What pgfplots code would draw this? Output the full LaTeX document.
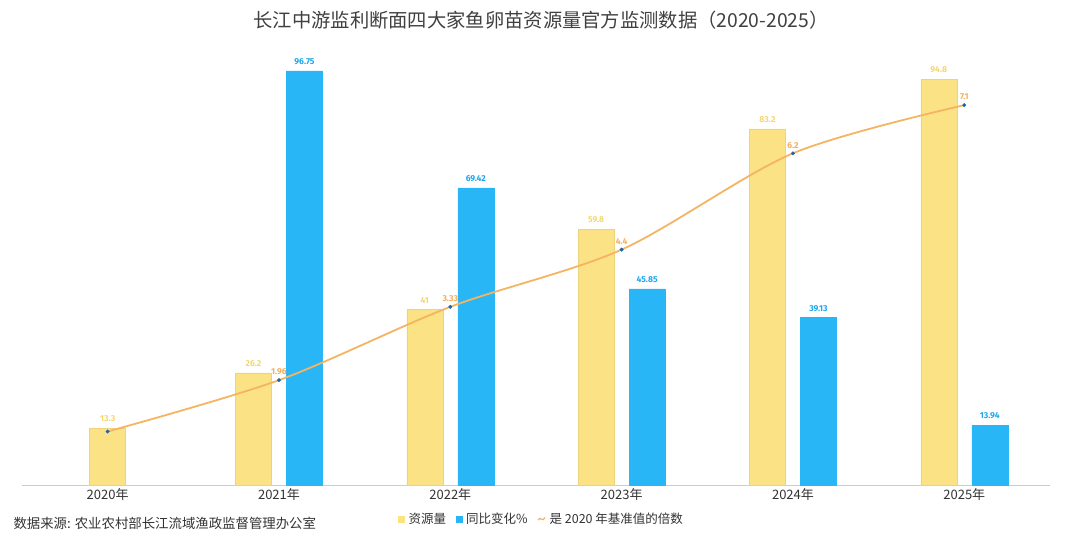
\documentclass[border=0pt]{standalone}
\usepackage{fontspec}
\setmainfont{Noto Sans CJK SC}
\newfontfamily\labfont{Fira Sans}
\usepackage{pgfplots}
\pgfplotsset{compat=1.18}
\definecolor{ybarc}{HTML}{FBE285}
\definecolor{ybarline}{HTML}{EDD47C}
\definecolor{bbarc}{HTML}{29B6F6}
\definecolor{ylab}{HTML}{F5D66E}
\definecolor{blab}{HTML}{1EA7EC}
\definecolor{oline}{HTML}{F5B462}
\definecolor{olab}{HTML}{F2AE5E}
\definecolor{mk}{HTML}{1A64B4}
\definecolor{txt}{HTML}{333333}
\definecolor{ttl}{HTML}{404040}
\begin{document}
\begin{tikzpicture}
\path[use as bounding box] (0,0) rectangle (1080bp,540bp);
\node[font=\fontsize{19.3bp}{22bp}\selectfont, text=ttl] at (541bp,520bp) {长江中游监利断面四大家鱼卵苗资源量官方监测数据（2020-2025）};
\node[anchor=west, font=\fontsize{13.4bp}{15bp}\selectfont, text=txt] at (10bp,17bp) {数据来源: 农业农村部长江流域渔政监督管理办公室};
\pgfplotsset{base/.style={scale only axis, width=1028bp, height=428bp, at={(22bp,55bp)}, anchor=south west, xmin=-0.5, xmax=5.5, ymin=0, clip=false}}
\begin{axis}[base, ymax=100,
  axis y line=none, axis x line*=bottom,
  x axis line style={color=black!20, line width=1bp, -},
  xtick={0,...,5},
  xticklabels={2020年,2021年,2022年,2023年,2024年,2025年},
  major tick length=0pt,
  xticklabel style={font=\fontsize{13bp}{15bp}\selectfont, text=txt},
  point meta=explicit symbolic, nodes near coords,
  nodes near coords style={font=\labfont\bfseries\fontsize{8.6bp}{9bp}\selectfont, anchor=south, inner sep=0pt, yshift=6bp}]
\addplot[ybar, bar width=36bp, bar shift=0pt, fill=ybarc, draw=ybarline, line width=0.5bp,
  every node near coord/.append style={text=ylab}]
  coordinates {(0,13.3) [13.3]};
\addplot[ybar, bar width=36bp, bar shift=-25.5bp, fill=ybarc, draw=ybarline, line width=0.5bp,
  every node near coord/.append style={text=ylab, xshift=-25.5bp}]
  coordinates {(1,26.2) [26.2] (2,41) [41] (3,59.8) [59.8] (4,83.2) [83.2] (5,94.8) [94.8]};
\addplot[ybar, bar width=36bp, bar shift=25.5bp, fill=bbarc, draw=bbarc, line width=0.5bp,
  every node near coord/.append style={text=blab, xshift=25.5bp}]
  coordinates {(1,96.75) [96.75] (2,69.42) [69.42] (3,45.85) [45.85] (4,39.13) [39.13] (5,13.94) [13.94]};
\end{axis}
\begin{axis}[base, ymax=8, hide axis,
  legend columns=3,
  legend style={draw=none, fill=none, at={(0.505,-0.0794)}, anchor=center,
    font=\fontsize{12.5bp}{14bp}\selectfont, text=txt, inner sep=0pt,
    nodes={inner sep=0.8bp},
    /tikz/every odd column/.append style={column sep=3bp},
    /tikz/every even column/.append style={column sep=9bp}}]
\addlegendimage{legend image code/.code={\fill[ybarc] (0bp,-3.5bp) rectangle (6bp,3bp);}}
\addlegendentry{资源量}
\addlegendimage{legend image code/.code={\fill[bbarc] (0bp,-3.5bp) rectangle (6bp,3bp);}}
\addlegendentry{同比变化\%}
\addplot[smooth, color=oline, line width=1.8bp, mark=*, mark size=1.8bp,
  mark options={fill=mk, draw=mk, line width=0.3bp, solid},
  point meta=explicit symbolic, nodes near coords,
  nodes near coords style={font=\labfont\bfseries\fontsize{8.6bp}{9bp}\selectfont, text=olab, anchor=south, inner sep=0pt, yshift=5bp},
  legend image code/.code={\draw[oline, line width=1.3bp] (0bp,-1bp) .. controls (2bp,3.5bp) and (4.5bp,-4bp) .. (7bp,1.5bp);}]
  coordinates {(0,1) [] (1,1.96) [1.96] (2,3.33) [3.33] (3,4.4) [4.4] (4,6.2) [6.2] (5,7.1) [7.1]};
\addlegendentry{是 2020 年基准值的倍数}
\end{axis}
\end{tikzpicture}
\end{document}
